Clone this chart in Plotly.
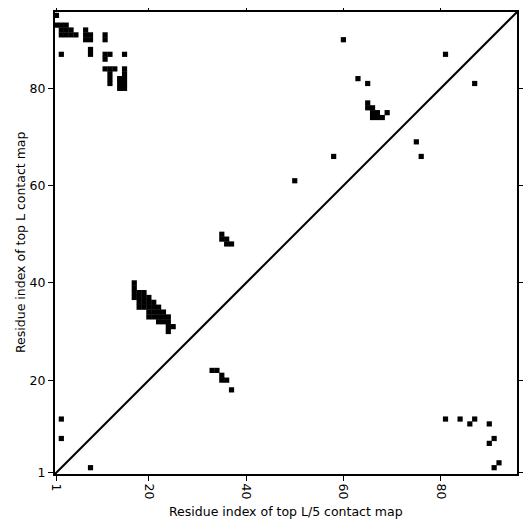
import plotly.graph_objects as go

# contact pairs (x residue, y residue)
res_x = [
    1, 2, 2, 2, 8,
    81, 84, 86, 87, 90, 90, 91, 91, 92,
    58, 50, 75, 76, 60, 63, 65, 81, 87, 15,
    1, 2, 3, 2, 3, 4, 2, 3, 4, 5,
    7, 7, 7, 8, 8, 11, 11, 8, 8, 11, 12, 11,
    11, 12, 13, 12, 12, 12,
    15, 15, 14, 15, 14, 15, 14, 15,
    17, 17, 17, 17, 18, 18, 18, 18, 19, 19, 19, 19,
    20, 20, 20, 20, 20, 21, 21, 21, 21, 22, 22, 22, 22,
    23, 23, 23, 24, 24, 24, 24, 25,
    35, 35, 36, 36, 37,
    33, 34, 35, 35, 36, 37,
    65, 65, 66, 66, 66, 67, 67, 68, 69,
]
res_y = [
    95, 87, 12, 8, 2,
    12, 12, 11, 12, 11, 7, 8, 2, 3,
    66, 61, 69, 66, 90, 82, 81, 87, 81, 87,
    93, 93, 93, 92, 92, 92, 91, 91, 91, 91,
    92, 91, 90, 91, 90, 91, 90, 88, 87, 87, 87, 86,
    84, 84, 84, 83, 82, 81,
    84, 83, 82, 82, 81, 81, 80, 80,
    40, 39, 38, 37, 38, 37, 36, 35, 38, 37, 36, 35,
    37, 36, 35, 34, 33, 36, 35, 34, 33, 35, 34, 33, 32,
    34, 33, 32, 33, 32, 31, 30, 31,
    50, 49, 49, 48, 48,
    22, 22, 21, 20, 20, 18,
    77, 76, 76, 75, 74, 75, 74, 74, 75,
]

x_title = "Residue index of top L/5 contact map"
y_title = "Residue index of top L contact map"
axis_lo, axis_hi = 0.7, 95.7
tick_vals = [1, 20, 40, 60, 80]

fig = go.Figure()
fig.add_trace(go.Scatter(
    x=[axis_lo, axis_hi], y=[axis_lo, axis_hi], mode="lines",
    line=dict(color="black", width=2), hoverinfo="skip", showlegend=False))
fig.add_trace(go.Scatter(
    x=res_x, y=res_y, mode="markers",
    marker=dict(symbol="square", size=5.2, color="black", line=dict(width=0)),
    showlegend=False))

axis_common = dict(
    showgrid=False, zeroline=False, showline=True, linecolor="black", linewidth=2,
    mirror="allticks", ticks="outside", ticklen=5, tickwidth=1.2, tickcolor="black",
    tickvals=tick_vals, ticktext=[str(v) for v in tick_vals],
    tickfont=dict(family="DejaVu Sans", size=12.5, color="black"),
    range=[axis_lo, axis_hi], automargin=False,
)
fig.update_xaxes(**axis_common, tickangle=90)
fig.update_yaxes(**axis_common)
title_font = dict(family="DejaVu Sans", size=12.5, color="black")
fig.add_annotation(text=x_title, xref="paper", yref="paper", x=0.5, y=0,
                   xanchor="center", yanchor="middle", yshift=-37,
                   showarrow=False, font=title_font)
fig.add_annotation(text=y_title, xref="paper", yref="paper", x=0, y=0.5,
                   xanchor="center", yanchor="middle", xshift=-35, textangle=-90,
                   showarrow=False, font=title_font)
fig.update_layout(
    width=523, height=523, autosize=False,
    margin=dict(l=47, r=14, t=4, b=57),
    plot_bgcolor="white", paper_bgcolor="white",
)
fig.write_html("out.html")
